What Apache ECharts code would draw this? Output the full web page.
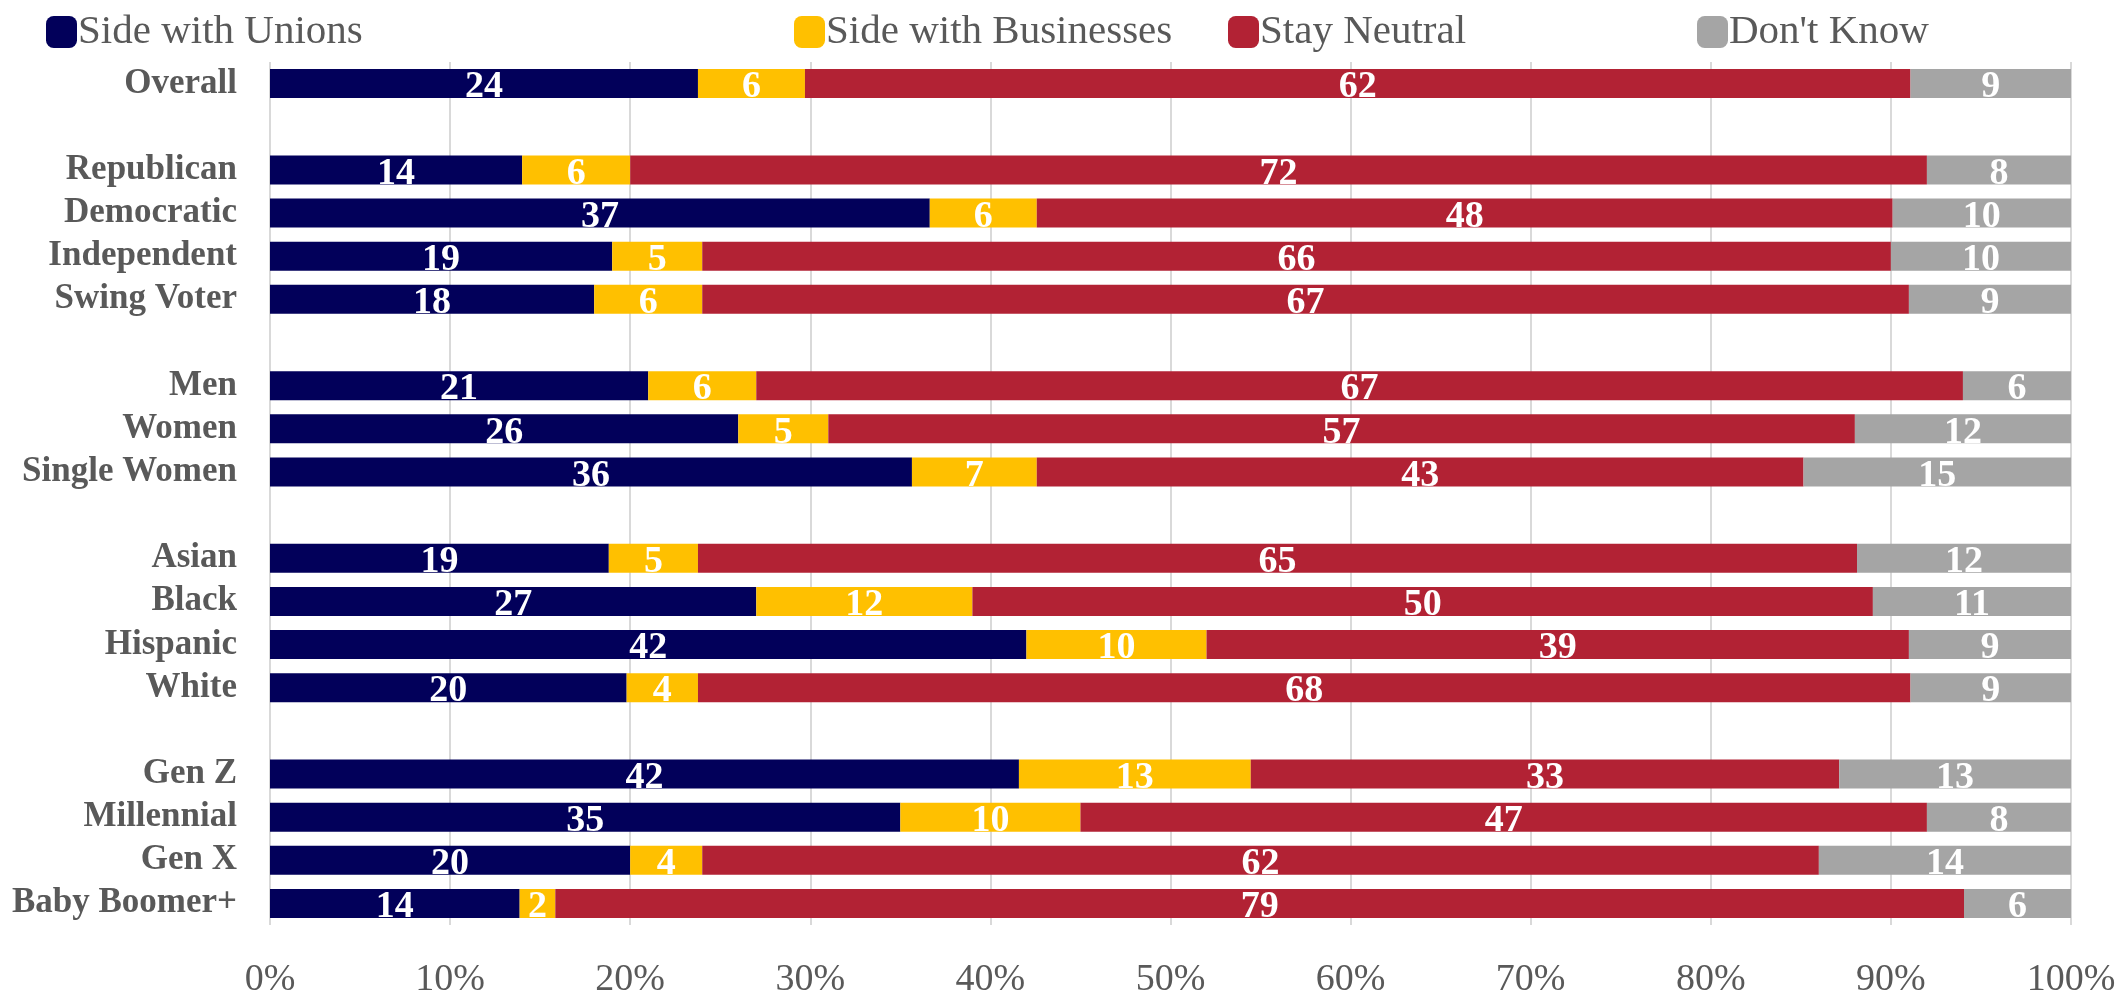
<!DOCTYPE html>
<html>
<head>
<meta charset="utf-8">
<script src="https://cdn.jsdelivr.net/npm/echarts@6/dist/echarts.min.js"></script>
<style>
  html, body { margin: 0; padding: 0; background: #ffffff; }
  #chart { width: 2126px; height: 994px; }
</style>
</head>
<body>
<div id="chart"></div>
<script>
// Survey groups, top to bottom; blank entries are spacer rows between groups
const categories = [
  'Overall', ' ',
  'Republican', 'Democratic', 'Independent', 'Swing Voter', '  ',
  'Men', 'Women', 'Single Women', '   ',
  'Asian', 'Black', 'Hispanic', 'White', '    ',
  'Gen Z', 'Millennial', 'Gen X', 'Baby Boomer+'
];

const seriesNames = ['Side with Unions', 'Side with Businesses', 'Stay Neutral', "Don't Know"];

// Reported percentages per group (null on spacer rows)
const unions     = [24, null, 14, 37, 19, 18, null, 21, 26, 36, null, 19, 27, 42, 20, null, 42, 35, 20, 14];
const businesses = [ 6, null,  6,  6,  5,  6, null,  6,  5,  7, null,  5, 12, 10,  4, null, 13, 10,  4,  2];
const neutral    = [62, null, 72, 48, 66, 67, null, 67, 57, 43, null, 65, 50, 39, 68, null, 33, 47, 62, 79];
const dontKnow   = [ 9, null,  8, 10, 10,  9, null,  6, 12, 15, null, 12, 11,  9,  9, null, 13,  8, 14,  6];

const xTicks = [0, 10, 20, 30, 40, 50, 60, 70, 80, 90, 100];

const colors = ['#02005A', '#FFC000', '#B22234', '#A5A5A5'];
const textGrey = '#595959';
const fontFamily = '"Liberation Serif", "DejaVu Serif", serif';

const allValues = [unions, businesses, neutral, dontKnow];

// Each bar is scaled so its four parts fill 100% of the row
const totals = categories.map((_, i) =>
  allValues.reduce((s, arr) => s + (arr[i] == null ? 0 : arr[i]), 0)
);

function toShares(arr) {
  return arr.map((v, i) => v == null ? '-' : { value: v / totals[i] * 100, raw: v });
}

const legendLefts = [41, 789, 1223, 1692];

const chart = echarts.init(document.getElementById('chart'), null, { renderer: 'canvas' });

chart.setOption({
  backgroundColor: '#ffffff',
  animation: false,
  legend: seriesNames.map((name, i) => ({
    data: [name],
    left: legendLefts[i],
    top: 6,
    icon: 'roundRect',
    itemWidth: 31,
    itemHeight: 32,
    itemGap: 0,
    selectedMode: false,
    textStyle: {
      color: textGrey,
      fontFamily: fontFamily,
      fontSize: 41,
      lineHeight: 42,
      padding: [0, 0, 0, -4]
    }
  })),
  grid: {
    left: 270,
    right: 55,
    top: 62,
    bottom: 69,
    containLabel: false,
    outerBoundsMode: 'none'
  },
  xAxis: {
    type: 'value',
    min: 0,
    max: 100,
    interval: 10,
    axisLine: { show: false },
    axisTick: { show: false },
    splitLine: { show: true, lineStyle: { color: '#D9D9D9', width: 2 } },
    axisLabel: {
      color: textGrey,
      fontFamily: fontFamily,
      fontSize: 38,
      margin: 36,
      formatter: v => xTicks.includes(v) ? v + '%' : ''
    }
  },
  yAxis: {
    type: 'category',
    inverse: true,
    data: categories,
    axisLine: { show: false },
    axisTick: { show: false },
    splitLine: { show: false },
    axisLabel: {
      interval: 0,
      color: textGrey,
      fontFamily: fontFamily,
      fontWeight: 'bold',
      fontSize: 35,
      margin: 33,
      padding: [5, 0, 0, 0]
    }
  },
  series: allValues.map((arr, i) => ({
    name: seriesNames[i],
    type: 'bar',
    stack: 'share',
    barWidth: 29,
    data: toShares(arr),
    itemStyle: { color: colors[i] },
    label: {
      show: true,
      position: 'inside',
      offset: [0, 4],
      color: '#ffffff',
      fontFamily: fontFamily,
      fontWeight: 'bold',
      fontSize: 38,
      formatter: p => p.data && p.data.raw != null ? String(p.data.raw) : ''
    },
    emphasis: { disabled: true }
  }))
});
</script>
</body>
</html>
